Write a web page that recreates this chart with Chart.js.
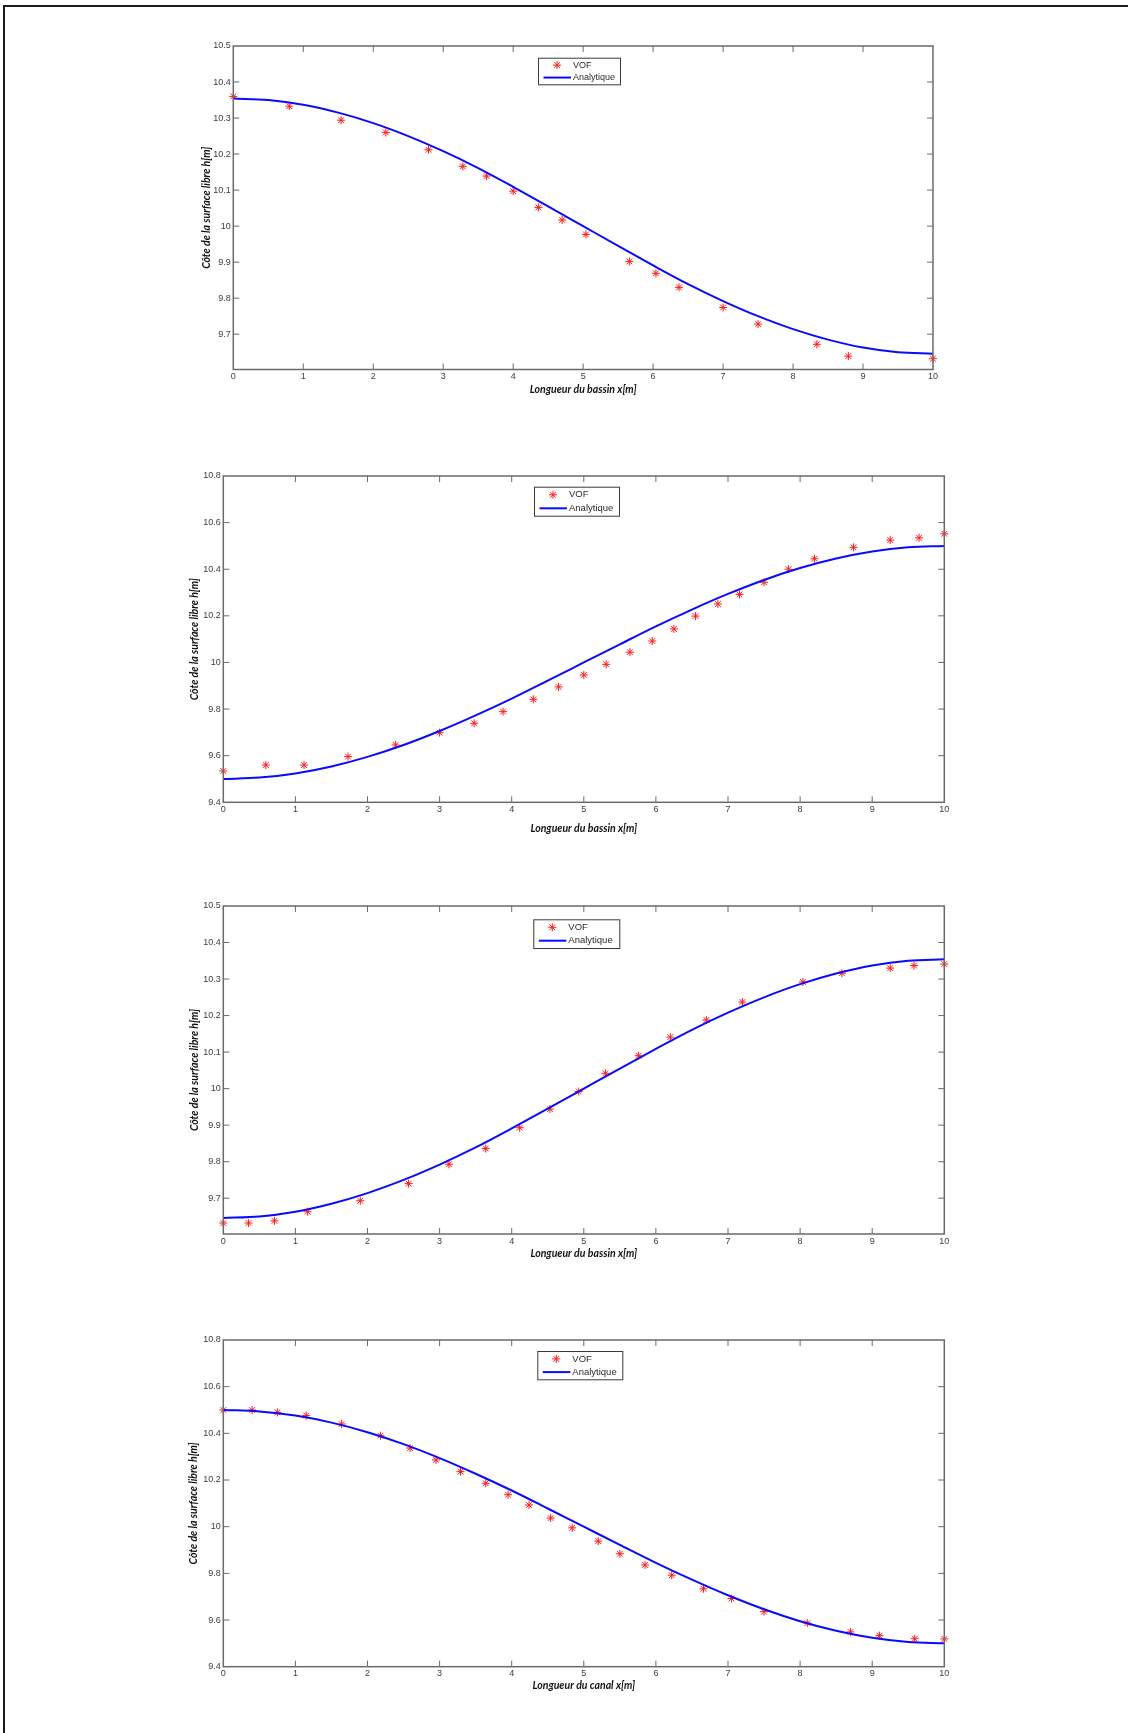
<!DOCTYPE html>
<html>
<head>
<meta charset="utf-8">
<script src="https://cdn.jsdelivr.net/npm/chart.js@4.4.1/dist/chart.umd.min.js"></script>
<style>
  html, body { margin: 0; padding: 0; background: #fff; }
  body { width: 1128px; height: 1733px; position: relative; overflow: hidden; }
  #frame { position: absolute; left: 3px; top: 5px; width: 1140px; height: 1740px;
           border-top: 2px solid #1c1c1c; border-left: 2px solid #1c1c1c; }
  canvas { position: absolute; left: 0; }
</style>
</head>
<body>
<div id="frame"></div>
<canvas id="c1"></canvas>
<canvas id="c2"></canvas>
<canvas id="c3"></canvas>
<canvas id="c4"></canvas>
<script>
// ---- Solution analytique : abscisses communes (m) ----
const xAnalytique = [0, 0.5, 1, 1.5, 2, 2.5, 3, 3.5, 4, 4.5, 5, 5.5, 6, 6.5, 7, 7.5, 8, 8.5, 9, 9.5, 10];
const hAnalytique1 = [10.354, 10.350, 10.337, 10.315, 10.286, 10.250, 10.208, 10.161, 10.109, 10.055, 10.000,
                      9.945, 9.891, 9.839, 9.792, 9.750, 9.714, 9.685, 9.663, 9.650, 9.646];
const hAnalytique2 = [9.500, 9.506, 9.524, 9.554, 9.595, 9.646, 9.706, 9.773, 9.845, 9.922, 10.000,
                      10.078, 10.155, 10.227, 10.294, 10.354, 10.405, 10.446, 10.476, 10.494, 10.500];
const hAnalytique3 = [9.646, 9.650, 9.663, 9.685, 9.714, 9.750, 9.792, 9.839, 9.891, 9.945, 10.000,
                      10.055, 10.109, 10.161, 10.208, 10.250, 10.286, 10.315, 10.337, 10.350, 10.354];
const hAnalytique4 = [10.500, 10.494, 10.476, 10.446, 10.405, 10.354, 10.294, 10.227, 10.155, 10.078, 10.000,
                      9.922, 9.845, 9.773, 9.706, 9.646, 9.595, 9.554, 9.524, 9.506, 9.500];

// ---- Résultats VOF ----
const xVOF1 = [0, 0.80, 1.54, 2.18, 2.79, 3.28, 3.62, 4.00, 4.36, 4.70, 5.04, 5.66, 6.04, 6.37, 7.00, 7.50, 8.34, 8.79, 10.0];
const hVOF1 = [10.360, 10.333, 10.294, 10.260, 10.212, 10.166, 10.139, 10.097, 10.052, 10.017, 9.977, 9.902, 9.869,
               9.830, 9.774, 9.728, 9.672, 9.639, 9.632];

const xVOF2 = [0, 0.59, 1.12, 1.73, 2.39, 3.00, 3.48, 3.88, 4.30, 4.65, 5.00, 5.31, 5.64, 5.95, 6.25, 6.55, 6.86,
               7.16, 7.50, 7.84, 8.20, 8.74, 9.25, 9.65, 10.0];
const hVOF2 = [9.534, 9.560, 9.560, 9.596, 9.646, 9.699, 9.739, 9.789, 9.842, 9.895, 9.946, 9.992, 10.044, 10.092,
               10.144, 10.199, 10.251, 10.292, 10.344, 10.400, 10.445, 10.494, 10.525, 10.535, 10.552];

const xVOF3 = [0, 0.35, 0.71, 1.17, 1.90, 2.57, 3.13, 3.64, 4.11, 4.53, 4.93, 5.30, 5.76, 6.20, 6.70, 7.20, 8.04,
               8.58, 9.25, 9.58, 10.0];
const hVOF3 = [9.632, 9.632, 9.638, 9.663, 9.693, 9.740, 9.793, 9.836, 9.893, 9.944, 9.992, 10.042, 10.090, 10.141,
               10.188, 10.237, 10.292, 10.316, 10.330, 10.337, 10.341];

const xVOF4 = [0, 0.40, 0.75, 1.15, 1.64, 2.18, 2.59, 2.95, 3.29, 3.64, 3.95, 4.24, 4.54, 4.84, 5.20, 5.50, 5.85,
               6.22, 6.66, 7.05, 7.50, 8.10, 8.70, 9.10, 9.59, 10.0];
const hVOF4 = [10.500, 10.500, 10.490, 10.476, 10.440, 10.390, 10.337, 10.286, 10.236, 10.186, 10.137, 10.093,
               10.037, 9.995, 9.938, 9.884, 9.836, 9.792, 9.734, 9.692, 9.636, 9.587, 9.549, 9.533, 9.520, 9.519];

// ---- Graduations ----
const xTicks = [0, 1, 2, 3, 4, 5, 6, 7, 8, 9, 10];
const xTickLabels = ['0', '1', '2', '3', '4', '5', '6', '7', '8', '9', '10'];
const yTicksA = [9.7, 9.8, 9.9, 10, 10.1, 10.2, 10.3, 10.4, 10.5];
const yTickLabelsA = ['9.7', '9.8', '9.9', '10', '10.1', '10.2', '10.3', '10.4', '10.5'];
const yTicksB = [9.4, 9.6, 9.8, 10, 10.2, 10.4, 10.6, 10.8];
const yTickLabelsB = ['9.4', '9.6', '9.8', '10', '10.2', '10.4', '10.6', '10.8'];

const yTitle = 'Côte de la surface libre h[m]';
const xTitleBassin = 'Longueur du bassin x[m]';
const xTitleCanal = 'Longueur du canal x[m]';
const seriesNames = ['VOF', 'Analytique'];

const pairs = (xs, ys) => xs.map((x, i) => ({ x: x, y: ys[i] }));

const TITLE_FONT = { family: 'Lato, "DejaVu Sans", sans-serif', size: 10.5, weight: 'bold', style: 'italic', lineHeight: 1.2 };
const TICK_FONT = { family: '"Liberation Sans", Arial, sans-serif', size: 9, lineHeight: 1.2 };
const AXIS_COLOR = '#6a6a6a';

// Box around the plot area with inward tick marks on all four sides
const axesBox = {
  id: 'axesBox',
  afterDatasetsDraw(chart, args, o) {
    const { ctx, chartArea: a, scales: { x, y } } = chart;
    ctx.save();
    ctx.strokeStyle = o.color;
    ctx.lineWidth = 1;
    ctx.beginPath();
    x.ticks.forEach(t => {
      const px = x.getPixelForValue(t.value);
      if (px <= a.left + 1 || px >= a.right - 1) return;
      ctx.moveTo(px, a.bottom); ctx.lineTo(px, a.bottom - o.len);
      ctx.moveTo(px, a.top); ctx.lineTo(px, a.top + o.len);
    });
    y.ticks.forEach(t => {
      const py = y.getPixelForValue(t.value);
      if (py <= a.top + 1 || py >= a.bottom - 1) return;
      ctx.moveTo(a.left, py); ctx.lineTo(a.left + o.len, py);
      ctx.moveTo(a.right, py); ctx.lineTo(a.right - o.len, py);
    });
    ctx.stroke();
    ctx.lineWidth = o.width;
    ctx.strokeRect(a.left, a.top, a.right - a.left, a.bottom - a.top);
    ctx.restore();
  }
};

// Framed legend placed inside the plot area
const boxedLegend = {
  id: 'boxedLegend',
  afterDraw(chart, args, o) {
    const { ctx } = chart;
    const [pts, line] = chart.data.datasets;
    const L = o.left, T = o.top, W = o.width, H = o.height;
    ctx.save();
    ctx.fillStyle = '#fff';
    ctx.fillRect(L, T, W, H);
    ctx.strokeStyle = '#3a3a3a';
    ctx.lineWidth = 1;
    ctx.strokeRect(L + 0.5, T + 0.5, W - 1, H - 1);

    const y1 = T + H * 0.27, y2 = T + H * 0.72;
    ctx.strokeStyle = pts.borderColor;
    ctx.fillStyle = pts.borderColor;
    Chart.helpers.drawPoint(ctx, { pointStyle: 'star', radius: pts.pointRadius, borderWidth: pts.borderWidth, rotation: 0 }, L + 19, y1);

    ctx.strokeStyle = line.borderColor;
    ctx.lineWidth = line.borderWidth;
    ctx.beginPath();
    ctx.moveTo(L + 5.5, y2); ctx.lineTo(L + 33, y2);
    ctx.stroke();

    ctx.fillStyle = '#2a2a2a';
    ctx.font = o.font;
    ctx.textBaseline = 'middle';
    ctx.textAlign = 'left';
    ctx.fillText(pts.label, L + 35, y1);
    ctx.fillText(line.label, L + 35, y2);
    ctx.restore();
  }
};

function makeChart(id, g, xv, hv, xa, ha, yTicks, yLabels, yMin, yMax, xTitle) {
  const canvas = document.getElementById(id);
  const top = g.T - 40;
  const height = Math.round(g.xTitleY + 20 - top);
  canvas.width = 1128; canvas.height = height;
  canvas.style.top = top + 'px';
  canvas.style.width = '1128px'; canvas.style.height = height + 'px';

  const half = TITLE_FONT.size * TITLE_FONT.lineHeight / 2;
  const padLeft = g.yTitleX - half;
  const yWidth = g.L - padLeft;
  const padRight = 1128 - g.R;
  const xHeight = (g.xTitleY - g.B) + half;
  const padBottom = height - (g.B - top) - xHeight;

  return new Chart(canvas, {
    type: 'scatter',
    data: {
      datasets: [
        {
          label: seriesNames[0],
          data: pairs(xv, hv),
          pointStyle: 'star',
          pointRadius: 4,
          borderWidth: 1,
          borderColor: '#ff1a1a',
          backgroundColor: '#ff1a1a',
          showLine: false,
          clip: false,
          order: 1
        },
        {
          label: seriesNames[1],
          data: pairs(xa, ha),
          showLine: true,
          pointRadius: 0,
          borderColor: '#0a0aff',
          backgroundColor: '#0a0aff',
          borderWidth: 2,
          cubicInterpolationMode: 'monotone',
          order: 0
        }
      ]
    },
    options: {
      responsive: false,
      animation: false,
      devicePixelRatio: 1,
      layout: { padding: { top: 40, left: padLeft, right: padRight, bottom: padBottom } },
      plugins: {
        legend: { display: false },
        tooltip: { enabled: false },
        axesBox: { color: AXIS_COLOR, width: 1.5, len: 6 },
        boxedLegend: {
          left: g.legend[0], top: g.legend[1] - top, width: g.legend[2], height: g.legend[3],
          font: g.legendFont
        }
      },
      scales: {
        x: {
          type: 'linear',
          min: 0, max: 10,
          grid: { display: false, drawTicks: false },
          border: { display: false },
          afterBuildTicks: s => { s.ticks = xTicks.map(v => ({ value: v })); },
          afterFit: s => { s.height = xHeight; },
          ticks: {
            font: TICK_FONT, color: '#3c3c3c', padding: 1.8, maxRotation: 0, autoSkip: false,
            callback: (v, i) => xTickLabels[i]
          },
          title: { display: true, text: xTitle, font: TITLE_FONT, color: '#111', padding: 0 }
        },
        y: {
          type: 'linear',
          min: yMin, max: yMax,
          grid: { display: false, drawTicks: false },
          border: { display: false },
          afterBuildTicks: s => { s.ticks = yTicks.map(v => ({ value: v })); },
          afterFit: s => { s.width = yWidth; },
          ticks: {
            font: TICK_FONT, color: '#3c3c3c', padding: 2.6, autoSkip: false,
            callback: (v, i) => yLabels[i]
          },
          title: { display: true, text: yTitle, font: TITLE_FONT, color: '#111', padding: 0 }
        }
      }
    },
    plugins: [axesBox, boxedLegend]
  });
}

const G1 = { L: 233.3, R: 933, T: 46, B: 369.5, yTitleX: 206.5, xTitleY: 390, legend: [538, 57.7, 83, 27.6], legendFont: '9px "Liberation Sans", Arial, sans-serif' };
const G2 = { L: 223.3, R: 944.3, T: 476, B: 802.3, yTitleX: 194.3, xTitleY: 828.3, legend: [534, 486.7, 86, 30], legendFont: '9.5px "Liberation Sans", Arial, sans-serif' };
const G3 = { L: 223.3, R: 944.3, T: 906, B: 1234, yTitleX: 194.3, xTitleY: 1253.3, legend: [533.3, 919.3, 87, 29.7], legendFont: '9.5px "Liberation Sans", Arial, sans-serif' };
const G4 = { L: 223.3, R: 944.3, T: 1340, B: 1666.7, yTitleX: 194, xTitleY: 1686, legend: [537.3, 1351, 86, 29.3], legendFont: '9.5px "Liberation Sans", Arial, sans-serif' };

makeChart('c1', G1, xVOF1, hVOF1, xAnalytique, hAnalytique1, yTicksA, yTickLabelsA, 9.602, 10.5, xTitleBassin);
makeChart('c2', G2, xVOF2, hVOF2, xAnalytique, hAnalytique2, yTicksB, yTickLabelsB, 9.4, 10.8, xTitleBassin);
makeChart('c3', G3, xVOF3, hVOF3, xAnalytique, hAnalytique3, yTicksA, yTickLabelsA, 9.602, 10.5, xTitleBassin);
makeChart('c4', G4, xVOF4, hVOF4, xAnalytique, hAnalytique4, yTicksB, yTickLabelsB, 9.4, 10.8, xTitleCanal);
</script>
</body>
</html>
